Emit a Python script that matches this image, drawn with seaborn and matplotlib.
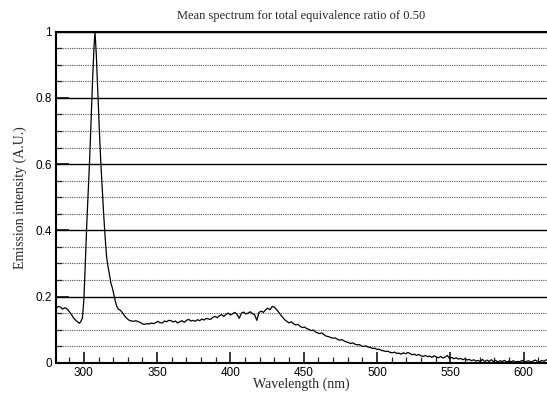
import matplotlib
matplotlib.use("Agg")
import matplotlib.pyplot as plt
import seaborn as sns
import pandas as pd
from matplotlib.ticker import MultipleLocator, FuncFormatter

wavelength = [281, 282.5, 284, 285.5, 287, 288.5, 290, 291.5, 293, 294.5, 296, 297, 298, 299,
    300, 301, 302, 303, 304, 305, 306, 307, 307.6, 308.5, 309.5, 310.5, 311.5, 312.5, 313.5,
    314.5, 315.5, 316.5, 317.5, 318.5, 319.5, 320.5, 321.5, 322.5, 323.5, 325, 326.5, 328,
    329.5, 331, 332.5, 334, 335.5, 337, 338.5, 340, 341.5, 343, 344.5, 346, 347.5, 349, 350.5,
    352, 353.5, 355, 356.5, 358, 359.5, 361, 362.5, 364, 365.5, 367, 368.5, 370, 371.5, 373,
    374.5, 376, 377.5, 379, 380.5, 382, 383.5, 385, 386.5, 388, 389.5, 391, 392.5, 394, 395.5,
    397, 398.5, 400, 401.5, 403, 404.5, 406, 407.5, 409, 410.5, 412, 413.5, 415, 416.5, 418,
    419.5, 421, 422.5, 424, 425.5, 427, 428.5, 430, 431, 432.5, 434, 435.5, 437, 438.5, 440,
    441.5, 443, 444.5, 446, 447.5, 449, 450.5, 452, 453.5, 455, 456.5, 458, 459.5, 461, 462.5,
    464, 465.5, 467, 468.5, 470, 471.5, 473, 474.5, 476, 477.5, 479, 480.5, 482, 483.5, 485,
    486.5, 488, 489.5, 491, 492.5, 494, 495.5, 497, 498.5, 500, 501.5, 503, 504.5, 506, 507.5,
    509, 510.5, 512, 513.5, 515, 516.5, 518, 519.5, 521, 522.5, 524, 525.5, 527, 528.5, 530,
    531.5, 533, 534.5, 536, 537.5, 539, 540.5, 542, 543.5, 545, 546.5, 548, 549.5, 551, 552.5,
    554, 555.5, 557, 558.5, 560, 561.5, 563, 564.5, 566, 567.5, 569, 570.5, 572, 573.5, 575,
    576.5, 578, 579.5, 581, 582.5, 584, 585.5, 587, 588.5, 590, 591.5, 593, 594.5, 596, 597.5,
    599, 600.5, 602, 603.5, 605, 606.5, 608, 609.5, 611, 612.5, 614, 615.5, 617]

intensity = [0.165, 0.170, 0.168, 0.162, 0.166, 0.163, 0.155, 0.146, 0.135, 0.128, 0.122, 0.119,
    0.125, 0.135, 0.190, 0.300, 0.420, 0.520, 0.620, 0.740, 0.860, 0.960, 1.000, 0.930, 0.820,
    0.710, 0.610, 0.530, 0.450, 0.380, 0.320, 0.290, 0.265, 0.240, 0.225, 0.205, 0.185, 0.170,
    0.162, 0.158, 0.150, 0.140, 0.133, 0.128, 0.126, 0.125, 0.127, 0.124, 0.122, 0.117, 0.116,
    0.118, 0.117, 0.120, 0.118, 0.121, 0.125, 0.121, 0.120, 0.126, 0.124, 0.128, 0.127, 0.123,
    0.126, 0.120, 0.124, 0.127, 0.122, 0.128, 0.131, 0.126, 0.128, 0.125, 0.130, 0.127, 0.132,
    0.129, 0.134, 0.132, 0.131, 0.137, 0.140, 0.136, 0.142, 0.145, 0.140, 0.146, 0.150, 0.144,
    0.148, 0.152, 0.146, 0.134, 0.150, 0.153, 0.147, 0.150, 0.154, 0.148, 0.145, 0.128, 0.152,
    0.156, 0.152, 0.160, 0.165, 0.160, 0.170, 0.168, 0.163, 0.155, 0.146, 0.138, 0.130, 0.125,
    0.120, 0.124, 0.118, 0.114, 0.116, 0.110, 0.106, 0.108, 0.103, 0.101, 0.097, 0.099, 0.093,
    0.090, 0.088, 0.090, 0.084, 0.080, 0.079, 0.076, 0.074, 0.075, 0.071, 0.068, 0.070, 0.066,
    0.063, 0.061, 0.058, 0.060, 0.056, 0.054, 0.055, 0.050, 0.049, 0.051, 0.047, 0.046, 0.043,
    0.044, 0.040, 0.041, 0.037, 0.036, 0.034, 0.035, 0.031, 0.030, 0.032, 0.028, 0.029, 0.026,
    0.030, 0.027, 0.031, 0.028, 0.024, 0.026, 0.022, 0.025, 0.021, 0.019, 0.022, 0.018, 0.020,
    0.016, 0.021, 0.017, 0.015, 0.019, 0.014, 0.017, 0.022, 0.013, 0.016, 0.012, 0.015, 0.011,
    0.013, 0.009, 0.012, 0.008, 0.010, 0.006, 0.009, 0.005, 0.007, 0.004, 0.010, 0.003, 0.008,
    0.004, 0.009, 0.003, 0.007, 0.002, 0.006, 0.004, 0.007, 0.002, 0.005, 0.003, 0.006, 0.002,
    0.004, 0.003, 0.007, 0.002, 0.004, 0.006, 0.002, 0.005, 0.008, 0.004, 0.003, 0.007, 0.004,
    0.009, 0.005]

title = "Mean spectrum for total equivalence ratio of 0.50"
xlabel = "Wavelength (nm)"
ylabel = "Emission intensity (A.U.)"

sns.set_theme(style="white")
plt.rcParams["font.family"] = ["Liberation Sans", "DejaVu Sans"]

df = pd.DataFrame({"wavelength": wavelength, "intensity": intensity})

fig = plt.figure(figsize=(5.47, 3.94), dpi=100)
ax = fig.add_axes([0.1024, 0.0794, 0.8976, 0.8401])

sns.lineplot(data=df, x="wavelength", y="intensity", ax=ax, color="black",
             linewidth=0.9, zorder=3)

ax.set_xlim(281, 616)
ax.set_ylim(0, 1)

ax.xaxis.set_major_locator(MultipleLocator(50))
ax.xaxis.set_minor_locator(MultipleLocator(10))
ax.yaxis.set_major_locator(MultipleLocator(0.2))
ax.yaxis.set_minor_locator(MultipleLocator(0.05))
ax.yaxis.set_major_formatter(FuncFormatter(lambda v, p: "%g" % round(v, 2)))

ax.grid(False)
ax.yaxis.grid(True, which="major", color="black", linestyle="-", linewidth=1.0)
ax.yaxis.grid(True, which="minor", color="#555555", linestyle=(0, (1, 1)), linewidth=0.8)
ax.xaxis.grid(False, which="both")

ax.tick_params(axis="both", which="major", direction="in", length=8, width=1.1,
               labelsize=8.5, colors="black", bottom=True, left=True, pad=3)
ax.tick_params(axis="both", which="minor", direction="in", length=4, width=0.9,
               bottom=True, left=True)
ax.tick_params(axis="y", which="major", length=9)

for side in ["left", "bottom", "top"]:
    ax.spines[side].set_visible(True)
    ax.spines[side].set_color("black")
    ax.spines[side].set_linewidth(1.5)
ax.spines["right"].set_visible(False)

ax.set_title(title, fontsize=9, family="Liberation Serif", pad=9)
ax.set_xlabel(xlabel, fontsize=10, family="Liberation Serif", labelpad=-1)
ax.set_ylabel(ylabel, fontsize=10, family="Liberation Serif", labelpad=6)

fig.savefig("out.png", dpi=100)
